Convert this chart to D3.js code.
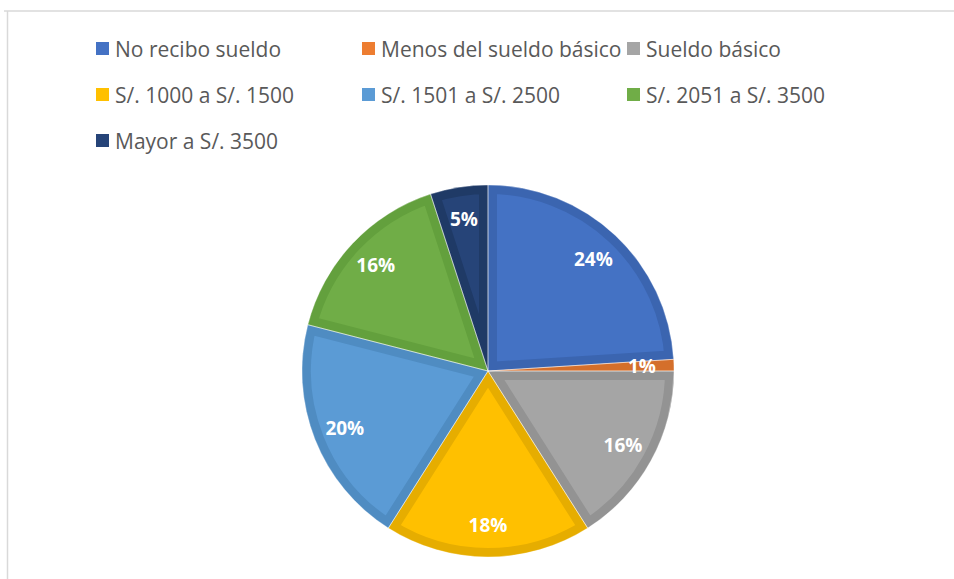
<!DOCTYPE html>
<html>
<head>
<meta charset="utf-8">
<script src="https://cdn.jsdelivr.net/npm/d3@7"></script>
<style>
  body { margin: 0; background: #fff; }
  svg { display: block; font-family: "Open Sans", "Noto Sans", sans-serif; }
</style>
</head>
<body>
<svg width="954" height="579"></svg>
<script>
// data
var categories = ["No recibo sueldo", "Menos del sueldo básico", "Sueldo básico",
                  "S/. 1000 a S/. 1500", "S/. 1501 a S/. 2500", "S/. 2051 a S/. 3500",
                  "Mayor a S/. 3500"];
var values = [24, 1, 16, 18, 20, 16, 5];
var fills = ["#4472C4", "#ED7D31", "#A5A5A5", "#FFC000", "#5B9BD5", "#70AD47", "#264478"];
var borders = ["#3B65B0", "#D46F2B", "#939393", "#E6AD00", "#4F8CC2", "#63A03D", "#1F3A66"];

var svg = d3.select("svg");
var width = 954, height = 579;

// chart frame (only top + left edges visible)
svg.append("line").attr("x1", 4).attr("x2", width).attr("y1", 11).attr("y2", 11)
    .attr("stroke", "#d9d9d9").attr("stroke-width", 1.5);
svg.append("line").attr("x1", 7.5).attr("x2", 7.5).attr("y1", 11).attr("y2", height)
    .attr("stroke", "#d9d9d9").attr("stroke-width", 1.5);

// legend, 3 columns
var colX = [96, 362, 627];
var rowY = [49, 95, 141];
var legend = svg.append("g").attr("class", "legend");
var items = legend.selectAll("g").data(categories).enter().append("g")
    .attr("transform", function(d, i) { return "translate(" + colX[i % 3] + "," + rowY[Math.floor(i / 3)] + ")"; });
items.append("rect").attr("x", 0).attr("y", -7).attr("width", 13).attr("height", 13)
    .attr("fill", function(d, i) { return fills[i]; });
items.append("text").attr("x", 19).attr("y", 0).attr("dy", "0.36em")
    .attr("fill", "#595959").style("font-size", "21px")
    .text(function(d) { return d; });

// pie
var cx = 488, cy = 371, r = 186;
var pie = d3.pie().sort(null).value(function(d) { return d; });
var arc = d3.arc().innerRadius(0).outerRadius(r);
var labelArc = d3.arc().innerRadius(154).outerRadius(154);
var arcs = pie(values);

var g = svg.append("g").attr("transform", "translate(" + cx + "," + cy + ")");
var defs = svg.append("defs");
defs.selectAll("clipPath").data(arcs).enter().append("clipPath")
    .attr("id", function(d, i) { return "clip" + i; })
  .append("path").attr("d", arc);

g.selectAll("path.slice").data(arcs).enter().append("path")
    .attr("class", "slice")
    .attr("d", arc)
    .attr("fill", function(d, i) { return fills[i]; })
    .attr("stroke", function(d, i) { return borders[i]; })
    .attr("stroke-width", 18)
    .attr("stroke-linejoin", "miter")
    .attr("clip-path", function(d, i) { return "url(#clip" + i + ")"; });

// thin light separators between slices
g.selectAll("path.sep").data(arcs).enter().append("path")
    .attr("class", "sep")
    .attr("d", arc)
    .attr("fill", "none")
    .attr("stroke", "#ffffff")
    .attr("stroke-opacity", 0.5)
    .attr("stroke-width", 0.8);

g.selectAll("text.lbl").data(arcs).enter().append("text")
    .attr("class", "lbl")
    .attr("transform", function(d) { return "translate(" + labelArc.centroid(d) + ")"; })
    .attr("text-anchor", "middle").attr("dy", "0.36em")
    .attr("fill", "#fff").style("font-size", "19px").style("font-weight", "bold")
    .text(function(d) { return d.data + "%"; });
</script>
</body>
</html>
